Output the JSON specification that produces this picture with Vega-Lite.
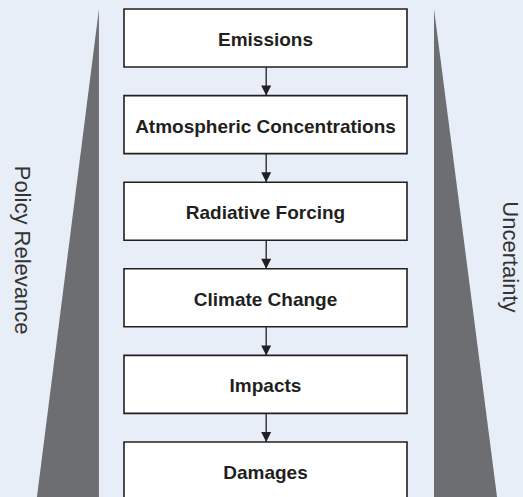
{
  "$schema": "https://vega.github.io/schema/vega-lite/v6.json",
  "width": 523,
  "height": 497,
  "padding": 0,
  "autosize": {"type": "none"},
  "background": "#e8eef7",
  "config": {"view": {"stroke": null}},
  "datasets": {
    "stages": [
      {"stage": "Emissions"},
      {"stage": "Atmospheric Concentrations"},
      {"stage": "Radiative Forcing"},
      {"stage": "Climate Change"},
      {"stage": "Impacts"},
      {"stage": "Damages"}
    ],
    "links": [
      {"from": "Emissions", "to": "Atmospheric Concentrations"},
      {"from": "Atmospheric Concentrations", "to": "Radiative Forcing"},
      {"from": "Radiative Forcing", "to": "Climate Change"},
      {"from": "Climate Change", "to": "Impacts"},
      {"from": "Impacts", "to": "Damages"}
    ],
    "wedges": [
      {"wedge": "Policy Relevance", "p": 0, "outer": -1.177, "inner": -1.177},
      {"wedge": "Policy Relevance", "p": 1, "outer": -1.618, "inner": -1.177},
      {"wedge": "Uncertainty", "p": 0, "outer": 1.191, "inner": 1.191},
      {"wedge": "Uncertainty", "p": 1, "outer": 1.639, "inner": 1.191}
    ]
  },
  "resolve": {"scale": {"y": "independent"}},
  "layer": [
    {
      "data": {"name": "wedges"},
      "mark": {"type": "area", "orient": "horizontal", "clip": true, "color": "#6d6e71"},
      "encoding": {
        "y": {"field": "p", "type": "quantitative", "axis": null, "scale": {"domain": [0, 1], "range": [9, 500], "nice": false, "zero": false}},
        "x": {"field": "outer", "type": "quantitative", "axis": null, "scale": {"domain": [-1, 1], "range": [124, 407], "nice": false, "zero": false}},
        "x2": {"field": "inner"},
        "detail": {"field": "wedge"}
      }
    },
    {
      "data": {"values": [{"label": "Policy Relevance", "p": 0.491, "pos": -1.721}, {"label": "Uncertainty", "p": 0.505, "pos": 1.728}]},
      "mark": {"type": "text", "angle": 90, "align": "center", "baseline": "middle", "font": "Liberation Sans", "fontSize": 22, "color": "#333333"},
      "encoding": {
        "y": {"field": "p", "type": "quantitative", "axis": null, "scale": {"domain": [0, 1], "range": [9, 500], "nice": false, "zero": false}},
        "x": {"field": "pos", "type": "quantitative", "axis": null},
        "text": {"field": "label"}
      }
    },
    {
      "data": {"name": "links"},
      "mark": {"type": "rule", "color": "#231f20", "strokeWidth": 1.3},
      "encoding": {
        "y": {"field": "from", "type": "nominal", "axis": null, "scale": {"type": "band", "domain": ["Emissions", "Atmospheric Concentrations", "Radiative Forcing", "Climate Change", "Impacts", "Damages"], "range": [9, 500], "paddingInner": 0.33, "paddingOuter": 0}},
        "y2": {"field": "to"},
        "x": {"datum": 0.005, "type": "quantitative", "axis": null}
      }
    },
    {
      "data": {"name": "stages"},
      "mark": {"type": "rect", "fill": "#ffffff", "stroke": "#231f20", "strokeWidth": 1.6},
      "encoding": {
        "y": {"field": "stage", "type": "nominal", "axis": null, "scale": {"type": "band", "domain": ["Emissions", "Atmospheric Concentrations", "Radiative Forcing", "Climate Change", "Impacts", "Damages"], "range": [9, 500], "paddingInner": 0.33, "paddingOuter": 0}},
        "x": {"datum": -1, "type": "quantitative", "axis": null},
        "x2": {"datum": 1}
      }
    },
    {
      "data": {"name": "links"},
      "mark": {"type": "point", "shape": "M-1,-2L1,-2L0,0Z", "size": 100, "filled": true, "opacity": 1, "color": "#231f20"},
      "encoding": {
        "y": {"field": "to", "type": "nominal", "bandPosition": 0, "axis": null, "scale": {"type": "band", "domain": ["Emissions", "Atmospheric Concentrations", "Radiative Forcing", "Climate Change", "Impacts", "Damages"], "range": [9, 500], "paddingInner": 0.33, "paddingOuter": 0}},
        "x": {"datum": 0.005, "type": "quantitative", "axis": null}
      }
    },
    {
      "data": {"name": "stages"},
      "mark": {"type": "text", "align": "center", "baseline": "middle", "dy": 2, "font": "Liberation Sans", "fontWeight": "bold", "fontSize": 19, "color": "#231f20"},
      "encoding": {
        "y": {"field": "stage", "type": "nominal", "bandPosition": 0.5, "axis": null, "scale": {"type": "band", "domain": ["Emissions", "Atmospheric Concentrations", "Radiative Forcing", "Climate Change", "Impacts", "Damages"], "range": [9, 500], "paddingInner": 0.33, "paddingOuter": 0}},
        "x": {"datum": 0, "type": "quantitative", "axis": null},
        "text": {"field": "stage"}
      }
    }
  ]
}
